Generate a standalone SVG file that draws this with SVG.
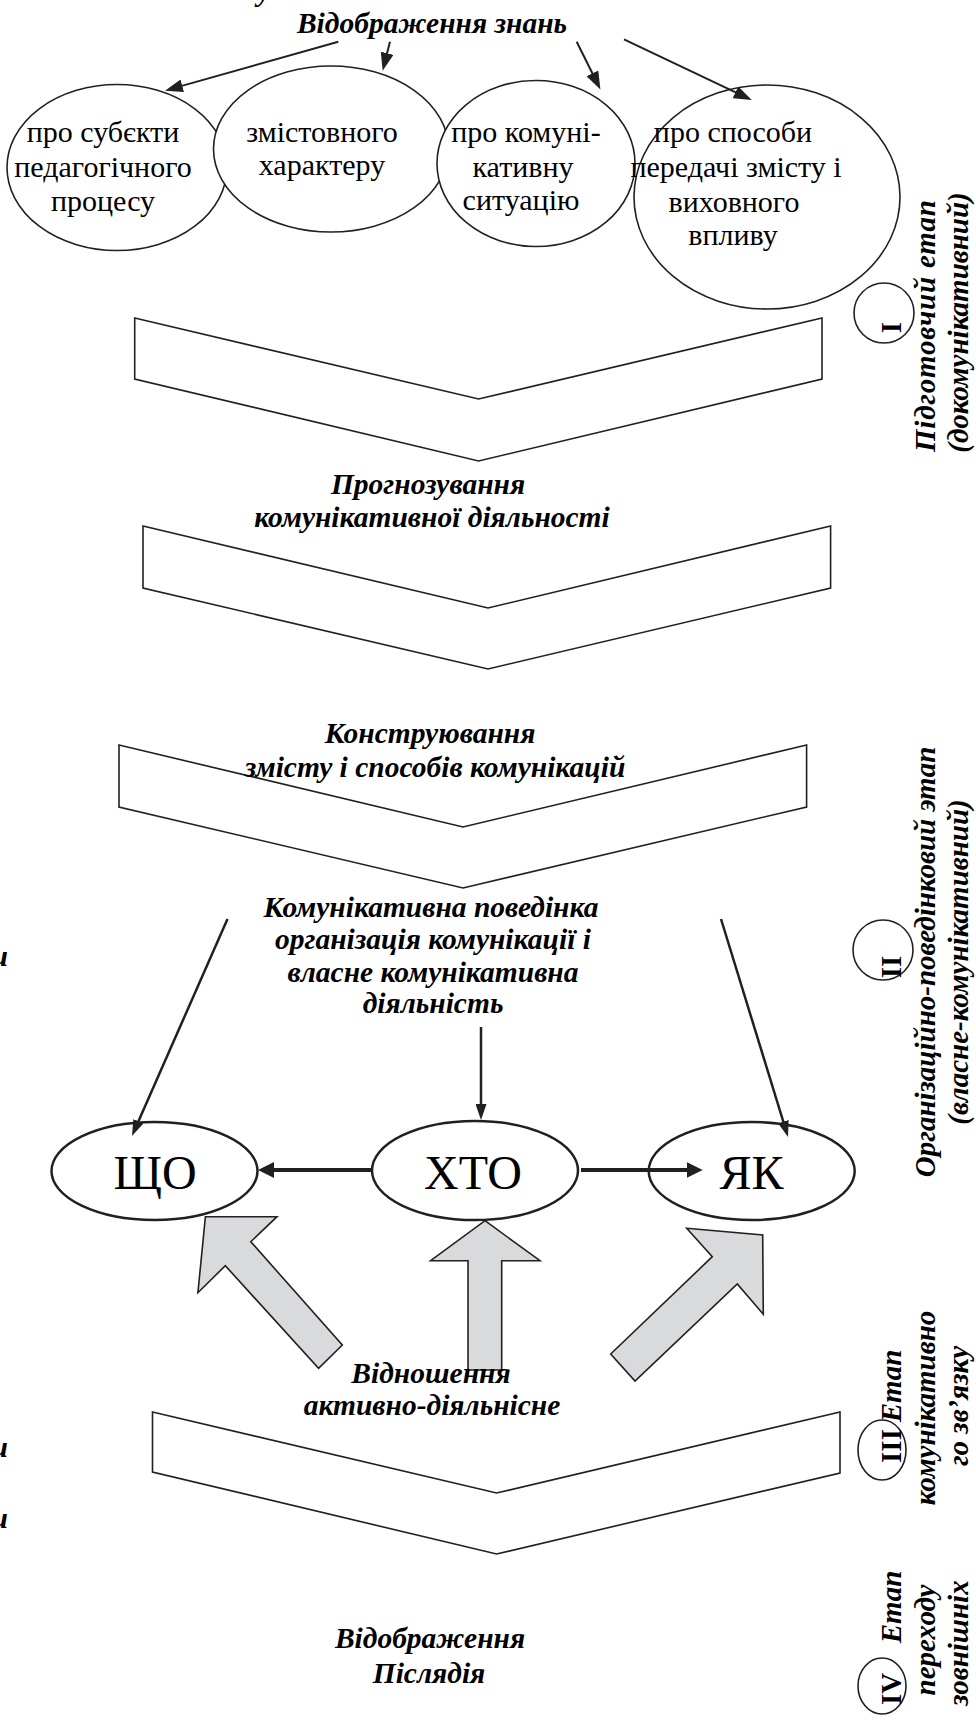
<svg xmlns="http://www.w3.org/2000/svg" width="976" height="1724" viewBox="0 0 976 1724">
<style>
text{font-family:"Liberation Serif","Times New Roman",serif;fill:#000}
.bi{font-weight:bold;font-style:italic;font-size:29.5px;text-anchor:middle}
.vb{font-weight:bold;font-style:italic;font-size:29px;text-anchor:middle}
.r{font-size:30px;text-anchor:middle}
.big{font-size:48px;text-anchor:middle}
.num{font-weight:bold;font-size:29px;text-anchor:middle}
.shape{fill:#fff;stroke:#231f20;stroke-width:1.6}
.node{fill:#fff;stroke:#231f20;stroke-width:2.5}
.chev{fill:#fff;stroke:#231f20;stroke-width:1.6;stroke-linejoin:miter}
.gray{fill:#d9dadc;stroke:#231f20;stroke-width:1.6;stroke-linejoin:miter}
.ln{fill:none;stroke:#231f20;stroke-width:2}
.ln2{fill:none;stroke:#231f20;stroke-width:2.5}
.thick{fill:none;stroke:#231f20;stroke-width:4}
</style>
<defs>
<marker id="ahS" viewBox="0 0 18 13" refX="6" refY="6.5" markerWidth="18" markerHeight="13" markerUnits="userSpaceOnUse" orient="auto">
<path d="M0,0 L18,6.5 L0,13 z" fill="#231f20"/>
</marker>
<marker id="ahM" viewBox="0 0 16 11" refX="4" refY="5.5" markerWidth="16" markerHeight="11" markerUnits="userSpaceOnUse" orient="auto">
<path d="M0,0 L16,5.5 L0,11 z" fill="#231f20"/>
</marker>
<marker id="ahT" viewBox="0 0 16 16" refX="4" refY="8" markerWidth="16" markerHeight="16" markerUnits="userSpaceOnUse" orient="auto">
<path d="M0,0 L16,8 L0,16 z" fill="#231f20"/>
</marker>
</defs>

<!-- cut-off fragments -->
<text class="bi" x="264" y="1">у</text>
<text class="bi" x="8" y="966" style="text-anchor:end">и</text>
<text class="bi" x="8" y="1457" style="text-anchor:end">и</text>
<text class="bi" x="8" y="1528" style="text-anchor:end">и</text>

<g id="title-knowledge"><text class="bi" x="432" y="33">Відображення знань</text></g>

<g id="e1"><ellipse class="shape" cx="117" cy="167.5" rx="110" ry="83"/>
<text class="r" x="103" y="142">про субєкти</text>
<text class="r" x="103" y="177">педагогічного</text>
<text class="r" x="103" y="211">процесу</text></g>

<g id="e2"><ellipse class="shape" cx="331" cy="149" rx="117.5" ry="83"/>
<text class="r" x="322" y="142">змістовного</text>
<text class="r" x="322" y="175">характеру</text></g>

<g id="e3"><ellipse class="shape" cx="536" cy="163.5" rx="99" ry="83"/>
<text class="r" x="526" y="142">про комуні-</text>
<text class="r" x="523" y="177">кативну</text>
<text class="r" x="521" y="210">ситуацію</text></g>

<g id="e4"><ellipse class="shape" cx="767" cy="197" rx="133" ry="112"/>
<text class="r" x="733" y="142">про способи</text>
<text class="r" x="736" y="177">передачі змісту і</text>
<text class="r" x="734" y="212">виховного</text>
<text class="r" x="733" y="245">впливу</text></g>

<g id="chevron1"><polygon class="chev" points="134.7,318 478.6,399 822,318 822,379 478.6,461 134.7,379"/></g>
<g id="forecast"><text class="bi" x="428" y="494">Прогнозування</text>
<text class="bi" x="432" y="527">комунікативної діяльності</text></g>
<g id="chevron2"><polygon class="chev" points="143,526 488,608 830.6,526 830.6,588 488,669 143,588"/></g>
<g id="chevron3"><polygon class="chev" points="119,745 463,827 806.6,745 806.6,807 463,888 119,807"/></g>
<g id="construct"><text class="bi" x="430" y="743">Конструювання</text>
<text class="bi" x="435" y="777">змісту і способів комунікацій</text></g>

<g id="behaviour"><text class="bi" x="431" y="917">Комунікативна поведінка</text>
<text class="bi" x="433" y="949">організація комунікації і</text>
<text class="bi" x="433" y="982">власне комунікативна</text>
<text class="bi" x="433" y="1013">діяльність</text></g>

<g id="what"><ellipse class="node" cx="154.5" cy="1171" rx="103" ry="49"/><text class="big" x="155" y="1189">ЩО</text></g>
<g id="who"><ellipse class="node" cx="475" cy="1170.5" rx="103" ry="49.5"/><text class="big" x="473" y="1189">ХТО</text></g>
<g id="how"><ellipse class="node" cx="751.7" cy="1171" rx="103" ry="49"/><text class="big" x="751.5" y="1189">ЯК</text></g>

<g id="gray-arrows">
<polygon class="gray" points="205.4,1216.7 277,1216.7 250.8,1241.7 342.3,1345 318.6,1368.3 225.3,1265.7 197.9,1292.7"/>
<polygon class="gray" points="485,1220.7 540,1260.7 501.7,1260.7 501.7,1370 468,1370 468,1260.7 430.6,1260.7"/>
<polygon class="gray" points="686.7,1228.3 762.7,1235 763.3,1314.3 737.3,1284 635,1381 610.7,1354 712.3,1256.7"/>
</g>

<g id="relation"><text class="bi" x="431" y="1383">Відношення</text>
<text class="bi" x="432" y="1415">активно-діяльнісне</text></g>

<g id="chevron4"><polygon class="chev" points="152.5,1412 496.6,1493 840,1412 840,1473 496.6,1554 152.5,1472"/></g>

<g id="aftereffect"><text class="bi" x="430" y="1648">Відображення</text>
<text class="bi" x="429" y="1683">Післядія</text></g>

<g id="connectors">
<line class="ln" x1="338.3" y1="41.7" x2="176.5" y2="87.4" marker-end="url(#ahS)"/>
<line class="ln" x1="390" y1="41.7" x2="385.6" y2="59.1" marker-end="url(#ahS)"/>
<line class="ln" x1="576.7" y1="41.7" x2="595.1" y2="78.8" marker-end="url(#ahS)"/>
<line class="ln" x1="624" y1="39.3" x2="740.9" y2="94.9" marker-end="url(#ahS)"/>
<line class="ln2" x1="227.5" y1="919" x2="136.8" y2="1125" marker-end="url(#ahM)"/>
<line class="ln2" x1="481" y1="1027" x2="481" y2="1108" marker-end="url(#ahM)"/>
<line class="ln2" x1="721" y1="919" x2="784.5" y2="1125.5" marker-end="url(#ahM)"/>
<line class="thick" x1="372" y1="1170" x2="270" y2="1170" marker-end="url(#ahT)"/>
<line class="thick" x1="581" y1="1170" x2="690.7" y2="1170" marker-end="url(#ahT)"/>
</g>

<g id="stage1">
<ellipse class="shape" cx="884" cy="313" rx="30" ry="30"/>
<text class="num" transform="translate(901,327.5) rotate(-90)">I</text>
<text class="vb" transform="translate(935,326) rotate(-90)" textLength="252" lengthAdjust="spacing">Підготовчий етап</text>
<text class="vb" transform="translate(968,322.5) rotate(-90)">(докомунікативний)</text>
</g>
<g id="stage2">
<ellipse class="shape" cx="883" cy="950" rx="30" ry="30"/>
<text class="num" transform="translate(901,967) rotate(-90)">II</text>
<text class="vb" transform="translate(935,962) rotate(-90)">Організаційно-поведінковий этап</text>
<text class="vb" transform="translate(968,962) rotate(-90)">(власне-комунікативний)</text>
</g>
<g id="stage3">
<ellipse class="shape" cx="882" cy="1450" rx="24" ry="30"/>
<text class="num" transform="translate(901,1446) rotate(-90)">III</text>
<text class="vb" transform="translate(901,1386) rotate(-90)">Етап</text>
<text class="vb" transform="translate(935,1408) rotate(-90)">комунікативно</text>
<text class="vb" transform="translate(968,1406) rotate(-90)">го зв’язку</text>
</g>
<g id="stage4">
<ellipse class="shape" cx="882" cy="1686" rx="24" ry="28"/>
<text class="num" transform="translate(901,1689) rotate(-90)">IV</text>
<text class="vb" transform="translate(901,1607) rotate(-90)">Етап</text>
<text class="vb" transform="translate(935,1640) rotate(-90)">переходу</text>
<text class="vb" transform="translate(968,1643) rotate(-90)">зовнішніх</text>
</g>
</svg>
